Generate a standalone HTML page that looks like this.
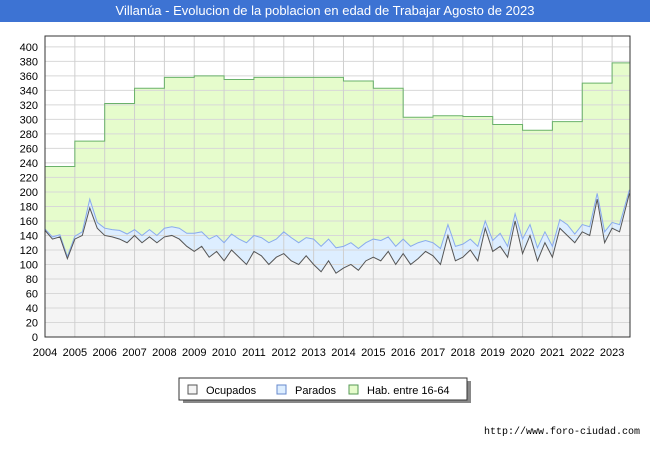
<!DOCTYPE html>
<html><head><meta charset="utf-8"><style>
body{margin:0;width:650px;height:450px;background:#fff;font-family:"Liberation Sans",sans-serif;overflow:hidden}
#title{position:absolute;left:0;top:0;width:650px;height:22px;background:#3d73d3;color:#fff;font-size:13px;text-align:center;line-height:22px}
#foot{position:absolute;right:10px;top:427px;font-size:10px;font-family:"Liberation Mono",monospace;color:#000}
</style></head><body>
<div id="title">Villanúa - Evolucion de la poblacion en edad de Trabajar Agosto de 2023</div>
<svg id="c" width="650" height="450" style="position:absolute;left:0;top:0"></svg>
<div id="foot">http://www.foro-ciudad.com</div>
<script>
const years=[2004,2005,2006,2007,2008,2009,2010,2011,2012,2013,2014,2015,2016,2017,2018,2019,2020,2021,2022,2023];
const hab=[235,270,322,343,358,360,355,358,358,358,353,343,303,305,304,293,285,297,350,378];
const ocupados=[147,135,138,108, 135,140,178,150, 140,138,135,130, 140,130,138,130, 138,140,135,125, 118,125,110,118, 105,120,110,100, 118,112,100,110, 115,105,100,112, 100,90,105,88, 95,100,92,105, 110,105,118,100, 115,100,108,118, 112,100,140,105, 110,120,105,150, 118,125,110,160, 115,140,105,130, 110,150,140,130, 145,140,190,130, 150,145,198];
const parados=[2,3,3,3, 4,5,12,8, 10,10,12,12, 8,10,10,10, 12,12,15,18, 25,20,25,22, 25,22,25,30, 22,25,30,25, 30,32,30,25, 35,35,30,35, 30,30,30,25, 25,28,20,25, 20,25,22,15, 18,22,15,20, 18,15,20,10, 15,18,15,10, 20,15,18,15, 15,12,15,12, 10,12,8,15, 8,10,5];
const yTicks=[0,20,40,60,80,100,120,140,160,180,200,220,240,260,280,300,320,340,360,380,400];
const legendLabels=["Ocupados","Parados","Hab. entre 16-64"];
const L=45,R=630,T=36,B=337,X0=2004,X1=2023.6,YMAX=415;
const xs=v=>L+(v-X0)/(X1-X0)*(R-L);
const ys=v=>B-v/YMAX*(B-T);
const svg=document.getElementById('c');const NS='http://www.w3.org/2000/svg';
function mk(t,a,p){const e=document.createElementNS(NS,t);for(const k in a)e.setAttribute(k,a[k]);(p||svg).appendChild(e);return e;}
const tOf=i=>i===ocupados.length-1?2023.58:X0+i/4;
let e;
e=mk('rect',{x:L,y:T,width:R-L,height:B-T,fill:'#fff'});


let hp='M'+xs(X0)+','+ys(0);
hab.forEach((v,i)=>{const a=years[i],b=Math.min(years[i]+1,X1);hp+=' L'+xs(a)+','+ys(v)+' L'+xs(b)+','+ys(v);});
hp+=' L'+xs(X1)+','+ys(0)+'Z';
e=mk('path',{d:hp,fill:'#e6fccc'});


const stackTop=ocupados.map((v,i)=>v+parados[i]);
let pp='M'+xs(X0)+','+ys(0);stackTop.forEach((v,i)=>pp+=' L'+xs(tOf(i))+','+ys(v));pp+=' L'+xs(tOf(stackTop.length-1))+','+ys(0)+'Z';
e=mk('path',{d:pp,fill:'#ddeeff'});


let op='M'+xs(X0)+','+ys(0);ocupados.forEach((v,i)=>op+=' L'+xs(tOf(i))+','+ys(v));op+=' L'+xs(tOf(ocupados.length-1))+','+ys(0)+'Z';
e=mk('path',{d:op,fill:'#f4f4f4'});


yTicks.forEach(v=>{const g=mk('line',{x1:L,x2:R,y1:ys(v),y2:ys(v),stroke:'#d8d8d8','stroke-width':1});


const t=mk('text',{x:38,y:ys(v)+4,'text-anchor':'end','font-size':11,fill:'#000'});t.textContent=v;

});
years.forEach(y=>{const g=mk('line',{x1:xs(y),x2:xs(y),y1:T,y2:B,stroke:'#cfcfcf','stroke-width':1});


const t=mk('text',{x:xs(y),y:356,'text-anchor':'middle','font-size':11,fill:'#000'});t.textContent=y;

});
let hl='';hab.forEach((v,i)=>{const a=years[i],b=Math.min(years[i]+1,X1);hl+=(i?' L':'M')+xs(a)+','+ys(v)+' L'+xs(b)+','+ys(v);});
e=mk('path',{d:hl,fill:'none',stroke:'#6ab26a','stroke-width':1});


let pl='';stackTop.forEach((v,i)=>pl+=(i?' L':'M')+xs(tOf(i))+','+ys(v));
e=mk('path',{d:pl,fill:'none',stroke:'#8aabee','stroke-width':1});


let ol='';ocupados.forEach((v,i)=>ol+=(i?' L':'M')+xs(tOf(i))+','+ys(v));
e=mk('path',{d:ol,fill:'none',stroke:'#555','stroke-width':1});


e=mk('rect',{x:L,y:T,width:R-L,height:B-T,fill:'none',stroke:'#333','stroke-width':1});


mk('rect',{x:183,y:381,width:288,height:22,fill:'#888'});
e=mk('rect',{x:179,y:378,width:288,height:22,fill:'#fff',stroke:'#333'});


const lc=[['#f4f4f4','#555'],['#ddeeff','#6688cc'],['#e6fccc','#559955']];const lx=[188,277,349];
legendLabels.forEach((s,i)=>{const g=mk('g',{});


mk('rect',{x:lx[i],y:385,width:9,height:9,fill:lc[i][0],stroke:lc[i][1]},g);
const t=mk('text',{x:lx[i]+18,y:394,'font-size':11,fill:'#000'},g);t.textContent=s;});
</script>
</body></html>
